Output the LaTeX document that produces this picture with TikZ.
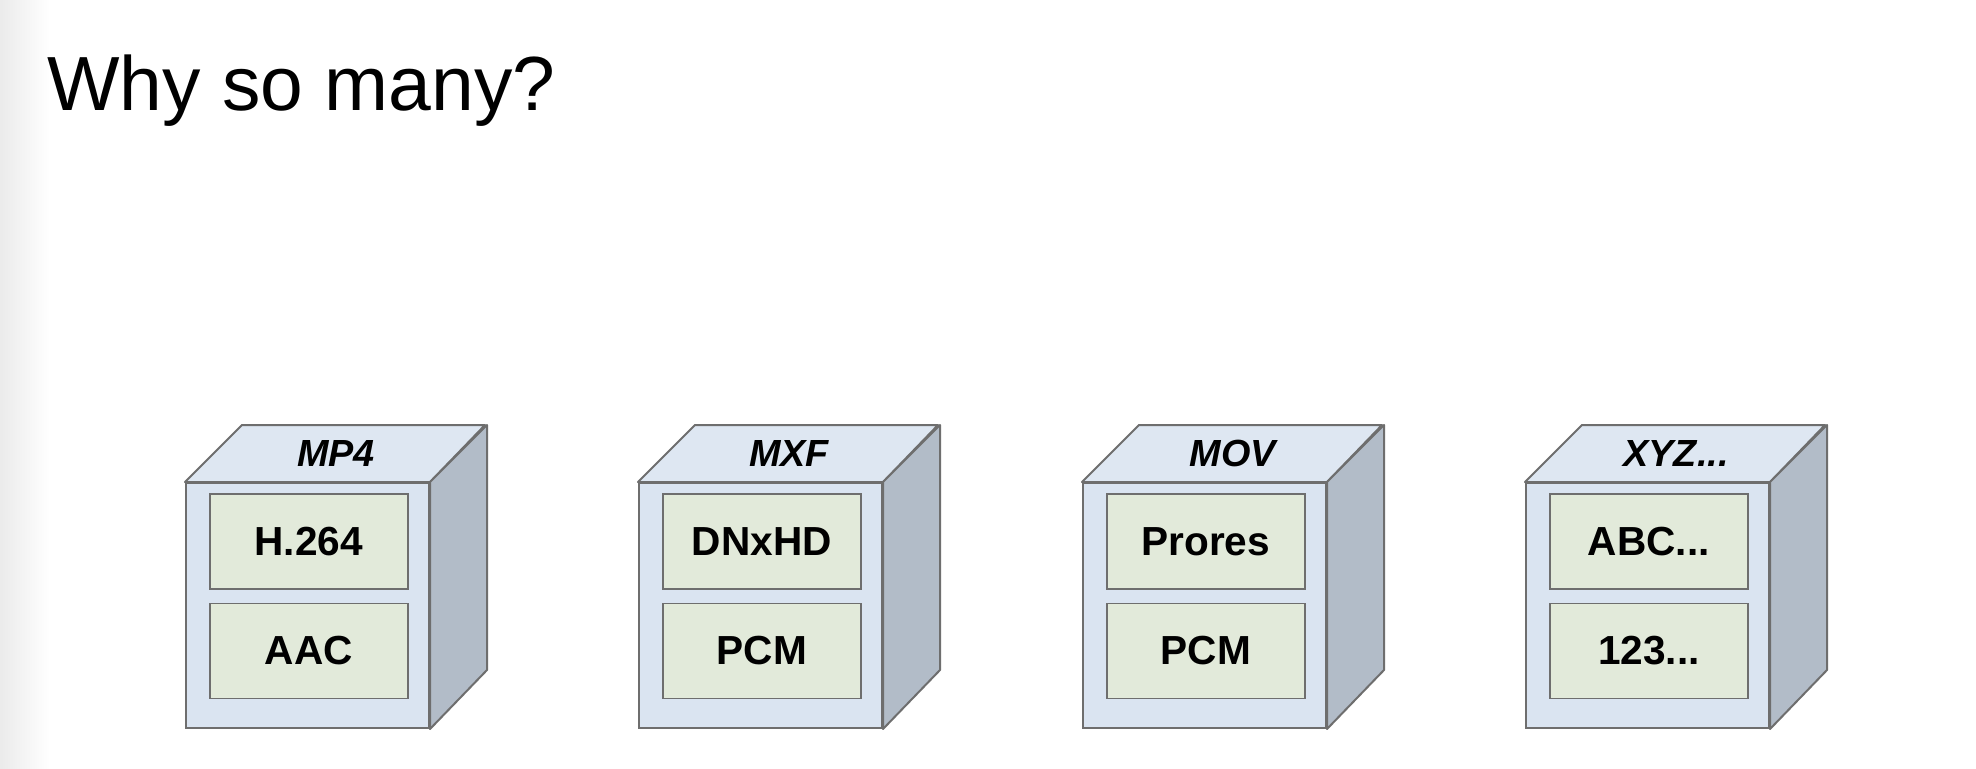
\documentclass[tikz,border=0pt]{standalone}
\usepackage{xcolor}
\usepackage{fontspec}
\setmainfont{Liberation Sans}
\usetikzlibrary{positioning,calc}

\definecolor{frontblue}{HTML}{DAE4F1}
\definecolor{topblue}{HTML}{DEE7F2}
\definecolor{sidegray}{HTML}{B2BCC8}
\definecolor{codecgreen}{HTML}{E2EADA}
\definecolor{edgegray}{HTML}{6E6E6E}

\tikzset{
  front/.style={draw=edgegray,line width=1pt,fill=frontblue,minimum width=121.5pt,
    minimum height=122.5pt,inner sep=0pt,anchor=north west},
  topface/.style={draw=edgegray,line width=1pt,fill=topblue,line join=round},
  sideface/.style={draw=edgegray,line width=1pt,fill=sidegray,line join=round},
  codec/.style={draw=edgegray,line width=0.8pt,fill=codecgreen,minimum width=99pt,
    minimum height=47.5pt,inner sep=0pt,font=\fontsize{20.3}{24}\selectfont\bfseries},
  fmtlabel/.style={inner sep=0pt,font=\fontsize{18.9}{22}\selectfont\bfseries\itshape}
}

\begin{document}
\begin{tikzpicture}[x=0.5pt,y=-0.5pt]
  \useasboundingbox (0,0) rectangle (1976,768);
  \fill[white] (0,0) rectangle (1976,768);
  \shade[left color=black!8,right color=white] (0,0) rectangle (50,768);

  \node[anchor=base west,inner sep=0pt,font=\fontsize{38.4}{46}\selectfont] (title) at (47,110) {Why so many?};

  % MP4
  \node[front] (mp4) at (185,482) {};
  \draw[topface] (mp4.north west) -- ++(57,-57) -- ++(243,0) -- (mp4.north east) -- cycle;
  \draw[sideface] (mp4.north east) -- ++(57,-57) -- ++(0,245) -- (mp4.south east) -- cycle;
  \node[fmtlabel] (mp4lbl) at ($(mp4.north)+(28.5,-28.5)$) {MP4};
  \node[codec,below right=5.5pt and 12pt of mp4.north west] (mp4v) {H.264};
  \node[codec,below=6.5pt of mp4v] (mp4a) {AAC};

  % MXF
  \node[front] (mxf) at (638,482) {};
  \draw[topface] (mxf.north west) -- ++(57,-57) -- ++(243,0) -- (mxf.north east) -- cycle;
  \draw[sideface] (mxf.north east) -- ++(57,-57) -- ++(0,245) -- (mxf.south east) -- cycle;
  \node[fmtlabel] (mxflbl) at ($(mxf.north)+(28.5,-28.5)$) {MXF};
  \node[codec,below right=5.5pt and 12pt of mxf.north west] (mxfv) {DNxHD};
  \node[codec,below=6.5pt of mxfv] (mxfa) {PCM};

  % MOV
  \node[front] (mov) at (1082,482) {};
  \draw[topface] (mov.north west) -- ++(57,-57) -- ++(243,0) -- (mov.north east) -- cycle;
  \draw[sideface] (mov.north east) -- ++(57,-57) -- ++(0,245) -- (mov.south east) -- cycle;
  \node[fmtlabel] (movlbl) at ($(mov.north)+(28.5,-28.5)$) {MOV};
  \node[codec,below right=5.5pt and 12pt of mov.north west] (movv) {Prores};
  \node[codec,below=6.5pt of movv] (mova) {PCM};

  % XYZ
  \node[front] (xyz) at (1525,482) {};
  \draw[topface] (xyz.north west) -- ++(57,-57) -- ++(243,0) -- (xyz.north east) -- cycle;
  \draw[sideface] (xyz.north east) -- ++(57,-57) -- ++(0,245) -- (xyz.south east) -- cycle;
  \node[fmtlabel] (xyzlbl) at ($(xyz.north)+(28.5,-28.5)$) {XYZ...};
  \node[codec,below right=5.5pt and 12pt of xyz.north west] (xyzv) {ABC...};
  \node[codec,below=6.5pt of xyzv] (xyza) {123...};
\end{tikzpicture}
\end{document}
